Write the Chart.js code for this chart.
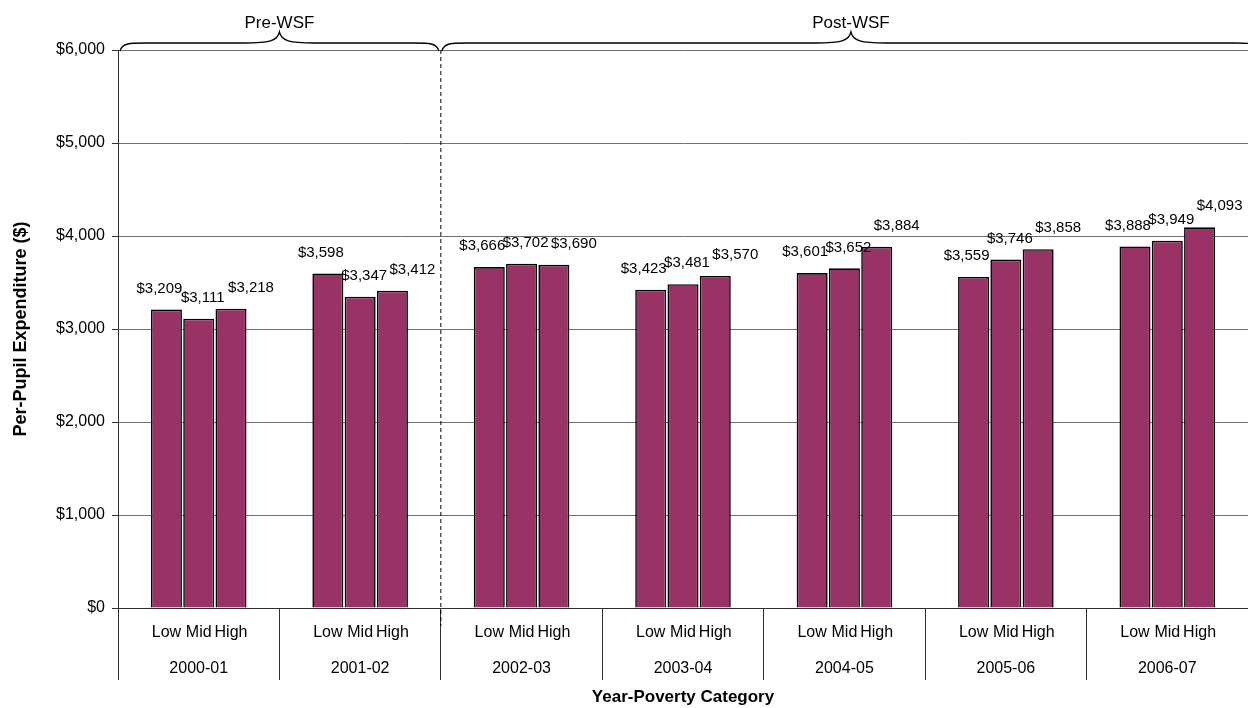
<!DOCTYPE html>
<html>
<head>
<meta charset="utf-8">
<script src="https://cdn.jsdelivr.net/npm/chart.js@4.4.1/dist/chart.umd.min.js"></script>
<style>
  body { margin: 0; background: #fff; }
  #wrap { width: 1248px; height: 708px; }
</style>
</head>
<body>
<div id="wrap"><canvas id="chart_1"></canvas></div>
<script>
var years = ["2000-01", "2001-02", "2002-03", "2003-04", "2004-05", "2005-06", "2006-07"];
var povertyNames = ["Low", "Mid", "High"];
var lowValues = [3209, 3598, 3666, 3423, 3601, 3559, 3888];
var midValues = [3111, 3347, 3702, 3481, 3652, 3746, 3949];
var highValues = [3218, 3412, 3690, 3570, 3884, 3858, 4093];
var yTicks = [0, 1000, 2000, 3000, 4000, 5000, 6000];
var periods = ["Pre-WSF", "Post-WSF"];
var periodSplit = 2; // first Post-WSF year index

var FONT = "'Liberation Sans', Arial, sans-serif";
var barColor = "#993366";
// small sideways shift of the value labels so they don't pile up
var labelShift = [-7, 4, 20];

function money(v) {
	return "$" + Number(v).toLocaleString("en-US");
}

// value labels above every bar + Low/Mid/High under each bar
var labelsPlugin = {
	id: "labelsPlugin",
	afterDatasetsDraw: function(chart) {
		var ctx = chart.ctx;
		var area = chart.chartArea;
		ctx.save();
		ctx.fillStyle = "#000";
		ctx.textAlign = "center";
		ctx.textBaseline = "middle";
		chart.data.datasets.forEach(function(ds, d) {
			var meta = chart.getDatasetMeta(d);
			meta.data.forEach(function(bar, i) {
				ctx.font = "15px " + FONT;
				ctx.fillText(money(ds.data[i]), bar.x + labelShift[d], bar.y - 21);
				ctx.font = "16px " + FONT;
				ctx.fillText(povertyNames[d], bar.x, area.bottom + 25);
			});
		});
		ctx.restore();
	}
};

// braces with period names, dashed separator
var periodPlugin = {
	id: "periodPlugin",
	afterDraw: function(chart) {
		var ctx = chart.ctx;
		var area = chart.chartArea;
		var x = chart.scales.x;
		var step = (x.getPixelForValue(1) - x.getPixelForValue(0));
		var split = x.getPixelForValue(periodSplit) - step / 2;
		ctx.save();
		ctx.strokeStyle = "#000";
		ctx.lineWidth = 1;
		ctx.setLineDash([4, 3]);
		ctx.beginPath();
		ctx.moveTo(split, area.top);
		ctx.lineTo(split, area.bottom + 18);
		ctx.stroke();
		ctx.setLineDash([]);
		drawBrace(ctx, area.left + 2, split - 2, area.top + 1, area.top - 18, periods[0]);
		drawBrace(ctx, split + 1, area.right + 12, area.top + 1, area.top - 18, periods[1]);
		ctx.restore();
	}
};

function drawBrace(ctx, x1, x2, yBase, yPeak, text) {
	var mid = (x1 + x2) / 2;
	var yLine = yBase - 8;
	ctx.lineWidth = 1.3;
	ctx.beginPath();
	ctx.moveTo(x1, yBase);
	ctx.bezierCurveTo(x1 + 2, yLine, x1 + 10, yLine, x1 + 25, yLine);
	ctx.lineTo(mid - 35, yLine);
	ctx.bezierCurveTo(mid - 10, yLine, mid - 2, yLine - 2, mid, yPeak);
	ctx.bezierCurveTo(mid + 2, yLine - 2, mid + 10, yLine, mid + 35, yLine);
	ctx.lineTo(x2 - 25, yLine);
	ctx.bezierCurveTo(x2 - 10, yLine, x2 - 2, yLine, x2, yBase);
	ctx.stroke();
	ctx.fillStyle = "#000";
	ctx.font = "17px " + FONT;
	ctx.textAlign = "center";
	ctx.textBaseline = "middle";
	ctx.fillText(text, mid, yPeak - 9);
}

function makeSet(name, values) {
	return {
		label: name,
		data: values,
		backgroundColor: barColor,
		borderColor: "#000",
		borderWidth: 1.6,
		borderSkipped: "bottom",
		categoryPercentage: 0.6,
		barPercentage: 0.96
	};
}

var data = {
	labels: years,
	datasets: [
		makeSet("Low", lowValues),
		makeSet("Mid", midValues),
		makeSet("High", highValues)
	]
};

var option = {
	responsive: true,
	maintainAspectRatio: false,
	animation: false,
	layout: { padding: { top: 50, right: 0, left: 0, bottom: 0 } },
	plugins: {
		legend: { display: false },
		tooltip: { enabled: false }
	},
	scales: {
		x: {
			offset: true,
			afterFit: function(scale) { scale.height = 100; },
			grid: {
				offset: true,
				drawOnChartArea: false,
				drawTicks: true,
				tickLength: 72,
				color: "#303030"
			},
			border: { display: true, color: "#303030" },
			ticks: {
				color: "#000",
				padding: -21,
				maxRotation: 0,
				font: { family: FONT, size: 16 }
			},
			title: {
				display: true,
				text: "Year-Poverty Category",
				color: "#000",
				padding: { top: 0, bottom: 0 },
				font: { family: FONT, size: 17, weight: "bold" }
			}
		},
		y: {
			min: 0,
			max: 6000,
			afterFit: function(scale) { scale.width = 118; },
			afterBuildTicks: function(scale) {
				scale.ticks = yTicks.map(function(v) { return { value: v }; });
			},
			grid: {
				color: "#707070",
				tickLength: 6,
				tickColor: "#303030"
			},
			border: { display: true, color: "#303030" },
			ticks: {
				color: "#000",
				padding: 7,
				font: { family: FONT, size: 16 },
				callback: function(v) { return money(v); }
			},
			title: {
				display: true,
				text: "Per-Pupil Expenditure ($)",
				color: "#000",
				padding: { top: 10, bottom: 0 },
				font: { family: FONT, size: 18, weight: "bold" }
			}
		}
	}
};

var chart1 = new Chart("chart_1", {
	type: "bar",
	data: data,
	options: option,
	plugins: [labelsPlugin, periodPlugin]
});
</script>
</body>
</html>
